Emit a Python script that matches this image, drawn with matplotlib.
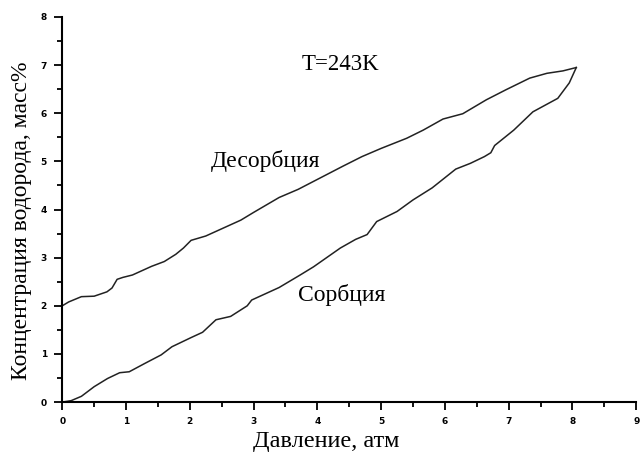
import numpy as np
import matplotlib
matplotlib.use('Agg')
from matplotlib import pyplot as plt
from matplotlib.ticker import MultipleLocator

# desorption branch (upper)
des_p = [0.0, 0.1, 0.3, 0.5, 0.7, 0.78, 0.86, 0.95, 1.1, 1.4, 1.6, 1.78, 1.9, 2.02,
         2.25, 2.5, 2.8, 3.0, 3.4, 3.7, 4.05, 4.4, 4.7, 5.0, 5.4, 5.66, 5.97, 6.28,
         6.65, 6.96, 7.33, 7.6, 7.85, 8.06]
des_c = [2.00, 2.08, 2.19, 2.20, 2.29, 2.37, 2.55, 2.59, 2.64, 2.82, 2.92, 3.07, 3.20, 3.36,
         3.45, 3.60, 3.78, 3.94, 4.25, 4.42, 4.66, 4.90, 5.10, 5.27, 5.48, 5.65, 5.88, 5.99,
         6.28, 6.49, 6.73, 6.83, 6.88, 6.95]

# sorption branch (lower)
sor_p = [0.0, 0.14, 0.3, 0.5, 0.71, 0.9, 1.05, 1.29, 1.55, 1.72, 2.02, 2.2, 2.41, 2.64,
         2.9, 2.97, 3.4, 3.73, 3.94, 4.36, 4.6, 4.78, 4.93, 5.25, 5.5, 5.8, 6.17, 6.4,
         6.62, 6.72, 6.78, 7.08, 7.38, 7.77, 7.95, 8.06]
sor_c = [0.0, 0.03, 0.12, 0.32, 0.49, 0.61, 0.63, 0.80, 0.98, 1.15, 1.34, 1.45, 1.71, 1.78,
         2.00, 2.12, 2.38, 2.64, 2.81, 3.20, 3.38, 3.48, 3.75, 3.96, 4.20, 4.45, 4.84, 4.96,
         5.10, 5.18, 5.33, 5.65, 6.03, 6.31, 6.63, 6.95]

serif = 'Liberation Serif'

fig = plt.figure(figsize=(6.42, 4.59), dpi=100)
ax = fig.add_axes([0.097, 0.124, 0.894, 0.839])

ax.plot(des_p, des_c, color='#222222', lw=1.1)
ax.plot(sor_p, sor_c, color='#222222', lw=1.1)

ax.set_xlim(0, 9)
ax.set_ylim(0, 8)
ax.xaxis.set_major_locator(MultipleLocator(1))
ax.xaxis.set_minor_locator(MultipleLocator(0.5))
ax.yaxis.set_major_locator(MultipleLocator(1))
ax.yaxis.set_minor_locator(MultipleLocator(0.5))

for s in ['top', 'right']:
    ax.spines[s].set_visible(False)
for s in ['left', 'bottom']:
    ax.spines[s].set_linewidth(1.5)

ax.tick_params(which='major', direction='out', length=6, width=1.3, labelsize=6.5, pad=5)
ax.tick_params(which='minor', direction='out', length=3.5, width=1.3)
for lab in ax.get_xticklabels() + ax.get_yticklabels():
    lab.set_fontweight('bold')

ax.set_xlabel('Давление, атм', fontsize=17.5, family=serif, labelpad=2)
ax.xaxis.set_label_coords(0.46, -0.075)
ax.set_ylabel('Концентрация водорода, масс%', fontsize=17, family=serif)
ax.yaxis.set_label_coords(-0.053, 0.47)

ax.text(3.75, 6.89, 'T=243K', fontsize=16.5, family=serif, va='baseline')
ax.text(2.33, 4.89, 'Десорбция', fontsize=17, family=serif, va='baseline')
ax.text(3.69, 2.09, 'Сорбция', fontsize=17, family=serif, va='baseline')

plt.savefig('out.png', dpi=100)
